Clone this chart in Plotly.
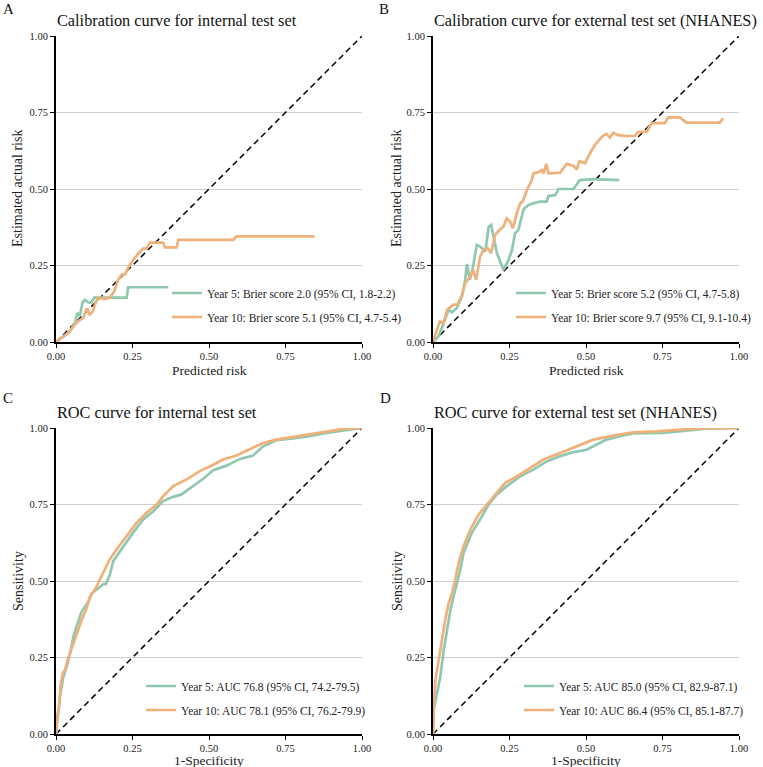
import plotly.graph_objects as go

W, H = 763, 767
FONT = "Liberation Serif, DejaVu Serif, serif"
GREEN = "#8FC8AF"
ORANGE = "#F0B07A"

# ---------------- data ----------------
# Panel A: calibration, internal test set
calA_y5_x = [0, 0.024, 0.046, 0.062, 0.07, 0.078, 0.087, 0.095, 0.105, 0.115, 0.125, 0.133, 0.16, 0.231, 0.236, 0.247, 0.367]
calA_y5_y = [0, 0.018, 0.035, 0.062, 0.095, 0.085, 0.13, 0.138, 0.13, 0.128, 0.145, 0.145, 0.145, 0.145, 0.179, 0.179, 0.179]
calA_y10_x = [0, 0.02, 0.04, 0.06, 0.075, 0.09, 0.1, 0.11, 0.12, 0.13, 0.14, 0.16, 0.175, 0.19, 0.203, 0.215, 0.225, 0.24, 0.252, 0.27, 0.285, 0.295, 0.307, 0.33, 0.35, 0.356, 0.394, 0.40, 0.579, 0.59, 0.845]
calA_y10_y = [0, 0.015, 0.03, 0.055, 0.07, 0.08, 0.11, 0.09, 0.10, 0.13, 0.145, 0.14, 0.145, 0.165, 0.203, 0.22, 0.22, 0.25, 0.268, 0.29, 0.306, 0.305, 0.325, 0.325, 0.325, 0.309, 0.309, 0.334, 0.334, 0.345, 0.345]

# Panel B: calibration, external test set (NHANES)
calB_y5_x = [0, 0.018, 0.035, 0.051, 0.062, 0.078, 0.095, 0.105, 0.111, 0.12, 0.13, 0.143, 0.154, 0.171, 0.182, 0.19, 0.209, 0.23, 0.247, 0.258, 0.268, 0.279, 0.296, 0.312, 0.328, 0.35, 0.372, 0.377, 0.4, 0.41, 0.459, 0.48, 0.524, 0.609]
calB_y5_y = [0, 0.018, 0.062, 0.105, 0.097, 0.111, 0.149, 0.203, 0.255, 0.203, 0.241, 0.317, 0.312, 0.296, 0.377, 0.383, 0.29, 0.236, 0.268, 0.301, 0.355, 0.366, 0.434, 0.448, 0.453, 0.459, 0.459, 0.477, 0.48, 0.5, 0.5, 0.529, 0.532, 0.529]
calB_y10_x = [0, 0.013, 0.022, 0.035, 0.046, 0.067, 0.08, 0.095, 0.105, 0.122, 0.13, 0.141, 0.154, 0.165, 0.178, 0.19, 0.203, 0.217, 0.23, 0.241, 0.252, 0.261, 0.274, 0.285, 0.293, 0.307, 0.323, 0.328, 0.345, 0.355, 0.361, 0.37, 0.377, 0.415, 0.437, 0.459, 0.47, 0.478, 0.497, 0.513, 0.529, 0.554, 0.567, 0.578, 0.589, 0.605, 0.633, 0.66, 0.671, 0.698, 0.714, 0.758, 0.768, 0.807, 0.828, 0.937, 0.948]
calB_y10_y = [0, 0.04, 0.067, 0.062, 0.105, 0.122, 0.122, 0.154, 0.192, 0.214, 0.236, 0.203, 0.279, 0.301, 0.307, 0.29, 0.35, 0.366, 0.377, 0.404, 0.393, 0.372, 0.421, 0.453, 0.459, 0.497, 0.529, 0.551, 0.555, 0.562, 0.551, 0.582, 0.551, 0.553, 0.582, 0.576, 0.564, 0.591, 0.584, 0.617, 0.644, 0.673, 0.68, 0.668, 0.684, 0.676, 0.673, 0.674, 0.687, 0.687, 0.715, 0.715, 0.734, 0.734, 0.717, 0.717, 0.731]

# Panel C: ROC, internal test set
rocC_y5_x = [0, 0.004, 0.013, 0.024, 0.035, 0.046, 0.057, 0.067, 0.084, 0.106, 0.116, 0.138, 0.155, 0.163, 0.176, 0.187, 0.22, 0.252, 0.285, 0.318, 0.35, 0.383, 0.41, 0.448, 0.481, 0.514, 0.557, 0.601, 0.644, 0.677, 0.72, 0.775, 0.829, 0.884, 0.938, 1.0]
rocC_y5_y = [0, 0.046, 0.122, 0.187, 0.22, 0.264, 0.318, 0.351, 0.4, 0.432, 0.46, 0.476, 0.49, 0.49, 0.52, 0.565, 0.614, 0.658, 0.701, 0.728, 0.761, 0.775, 0.783, 0.81, 0.834, 0.862, 0.877, 0.899, 0.91, 0.94, 0.96, 0.966, 0.973, 0.984, 0.992, 1.0]
rocC_y10_x = [0, 0.004, 0.011, 0.015, 0.022, 0.029, 0.04, 0.051, 0.067, 0.084, 0.098, 0.111, 0.127, 0.144, 0.16, 0.176, 0.198, 0.231, 0.263, 0.296, 0.329, 0.35, 0.383, 0.427, 0.47, 0.514, 0.546, 0.59, 0.633, 0.677, 0.72, 0.775, 0.829, 0.884, 0.938, 1.0]
rocC_y10_y = [0, 0.057, 0.1, 0.155, 0.198, 0.209, 0.247, 0.28, 0.324, 0.373, 0.405, 0.449, 0.471, 0.505, 0.536, 0.571, 0.603, 0.647, 0.69, 0.723, 0.75, 0.777, 0.81, 0.832, 0.859, 0.88, 0.897, 0.91, 0.929, 0.951, 0.962, 0.971, 0.978, 0.989, 0.997, 1.0]

# Panel D: ROC, external test set (NHANES)
rocD_y5_x = [0, 0.002, 0.011, 0.024, 0.035, 0.046, 0.057, 0.067, 0.078, 0.089, 0.1, 0.127, 0.154, 0.182, 0.209, 0.241, 0.285, 0.328, 0.372, 0.415, 0.459, 0.502, 0.535, 0.567, 0.611, 0.654, 0.752, 0.828, 0.893, 1.0]
rocD_y5_y = [0, 0.078, 0.122, 0.187, 0.274, 0.34, 0.405, 0.449, 0.492, 0.536, 0.592, 0.658, 0.701, 0.75, 0.783, 0.81, 0.842, 0.864, 0.891, 0.908, 0.921, 0.929, 0.946, 0.962, 0.973, 0.982, 0.984, 0.992, 0.998, 1.0]
rocD_y10_x = [0, 0.002, 0.008, 0.018, 0.029, 0.04, 0.051, 0.062, 0.073, 0.084, 0.1, 0.122, 0.149, 0.176, 0.203, 0.236, 0.274, 0.317, 0.361, 0.415, 0.47, 0.524, 0.589, 0.654, 0.73, 0.807, 0.872, 1.0]
rocD_y10_y = [0, 0.089, 0.176, 0.242, 0.307, 0.373, 0.427, 0.46, 0.505, 0.56, 0.614, 0.668, 0.717, 0.75, 0.783, 0.821, 0.842, 0.87, 0.897, 0.918, 0.94, 0.962, 0.975, 0.986, 0.989, 0.995, 0.999, 1.0]

panel_letters = ["A", "B", "C", "D"]
panel_titles = [
    "Calibration curve for internal test set",
    "Calibration curve for external test set (NHANES)",
    "ROC curve for internal test set",
    "ROC curve for external test set (NHANES)",
]
x_titles = ["Predicted risk", "Predicted risk", "1-Specificity", "1-Specificity"]
y_titles = ["Estimated actual risk", "Estimated actual risk", "Sensitivity", "Sensitivity"]
legend_labels = [
    ("Year 5: Brier score 2.0 (95% CI, 1.8-2.2)", "Year 10: Brier score 5.1 (95% CI, 4.7-5.4)"),
    ("Year 5: Brier score 5.2 (95% CI, 4.7-5.8)", "Year 10: Brier score 9.7 (95% CI, 9.1-10.4)"),
    ("Year 5: AUC 76.8 (95% CI, 74.2-79.5)", "Year 10: AUC 78.1 (95% CI, 76.2-79.9)"),
    ("Year 5: AUC 85.0 (95% CI, 82.9-87.1)", "Year 10: AUC 86.4 (95% CI, 85.1-87.7)"),
]
tick_vals = [0, 0.25, 0.5, 0.75, 1.0]
tick_text = ["0.00", "0.25", "0.50", "0.75", "1.00"]

series = [
    ((calA_y5_x, calA_y5_y), (calA_y10_x, calA_y10_y)),
    ((calB_y5_x, calB_y5_y), (calB_y10_x, calB_y10_y)),
    ((rocC_y5_x, rocC_y5_y), (rocC_y10_x, rocC_y10_y)),
    ((rocD_y5_x, rocD_y5_y), (rocD_y10_x, rocD_y10_y)),
]

# ---------------- layout geometry (pixels) ----------------
panel_px = [  # x0, x1, ytop, ybottom
    (56, 362, 36, 342),
    (433, 739, 36, 342),
    (56, 362, 428, 734),
    (433, 739, 428, 734),
]
legend_text_x = [209, 553, 183, 561]
legend_y = [(293, 317), (293, 317), (686, 710), (686, 710)]
letter_pos = [(8, 9), (384, 9), (8, 398), (385, 398)]
title_y = [21, 21, 412, 412]
ytitle_x = [18, 397, 18, 397]
xtitle_off = [28, 28, 26, 26]


def px(x):
    return x / W


def py(y):
    return 1 - y / H


fig = go.Figure()
layout = dict(
    width=W, height=H,
    margin=dict(l=0, r=0, t=0, b=0, autoexpand=False),
    paper_bgcolor="white", plot_bgcolor="white",
    font=dict(family=FONT, color="#222222"),
    annotations=[],
)

leg_i = 0
for i in range(4):
    x0, x1, yt, yb = panel_px[i]
    sfx = "" if i == 0 else str(i + 1)
    xa, ya = "x" + sfx, "y" + sfx
    layout["xaxis" + sfx] = dict(
        domain=[px(x0), px(x1)], anchor=ya, range=[0, 1],
        tickvals=tick_vals, ticktext=tick_text, ticks="outside", ticklen=4,
        tickcolor="black", tickwidth=1, showline=True, linecolor="black",
        linewidth=1.5, showgrid=False, zeroline=False,
        tickfont=dict(family=FONT, size=10.5, color="#222222"),
    )
    layout["yaxis" + sfx] = dict(
        domain=[py(yb), py(yt)], anchor=xa, range=[0, 1],
        tickvals=tick_vals, ticktext=tick_text, ticks="outside", ticklen=4,
        tickcolor="black", tickwidth=1, showline=True, linecolor="black",
        linewidth=2, showgrid=True, gridcolor="#cfcfcf", gridwidth=1,
        zeroline=False, tickfont=dict(family=FONT, size=10.5, color="#222222"),
    )
    # diagonal reference
    fig.add_trace(go.Scatter(
        x=[0, 1], y=[0, 1], mode="lines", xaxis=xa, yaxis=ya,
        line=dict(color="black", width=1.5, dash="6px,4px"), showlegend=False,
        hoverinfo="skip"))
    for k, (col, (sx, sy)) in enumerate(zip([GREEN, ORANGE], series[i])):
        leg_i += 1
        lname = "legend" if leg_i == 1 else "legend" + str(leg_i)
        fig.add_trace(go.Scatter(
            x=sx, y=sy, mode="lines", xaxis=xa, yaxis=ya,
            line=dict(color=col, width=2.7), name=legend_labels[i][k],
            legend=lname, showlegend=True))
        layout[lname] = dict(
            x=px(legend_text_x[i] - 42), y=py(legend_y[i][k]),
            xanchor="left", yanchor="middle", bgcolor="rgba(0,0,0,0)",
            font=dict(family=FONT, size=11.5, color="#222222"),
            itemwidth=30,
        )
    ann = layout["annotations"]
    ann.append(dict(text=panel_letters[i], x=px(letter_pos[i][0]), y=py(letter_pos[i][1]),
                    xref="paper", yref="paper", showarrow=False, xanchor="center",
                    yanchor="middle", font=dict(family=FONT, size=15, color="#111111")))
    ann.append(dict(text=panel_titles[i], x=px(x0 - 1), y=py(title_y[i]),
                    xref="paper", yref="paper", showarrow=False, xanchor="left",
                    yanchor="middle", font=dict(family=FONT, size=16.3, color="#111111")))
    ann.append(dict(text=x_titles[i], x=px((x0 + x1) / 2), y=py(yb + xtitle_off[i]), borderpad=0,
                    xref="paper", yref="paper", showarrow=False, xanchor="center",
                    yanchor="middle", font=dict(family=FONT, size=13.5, color="#222222")))
    ann.append(dict(text=y_titles[i], x=px(ytitle_x[i]), y=py((yt + yb) / 2),
                    xref="paper", yref="paper", showarrow=False, xanchor="center",
                    yanchor="middle", textangle=-90,
                    font=dict(family=FONT, size=14, color="#222222")))

fig.update_layout(**layout)
fig.write_html("out.html")
